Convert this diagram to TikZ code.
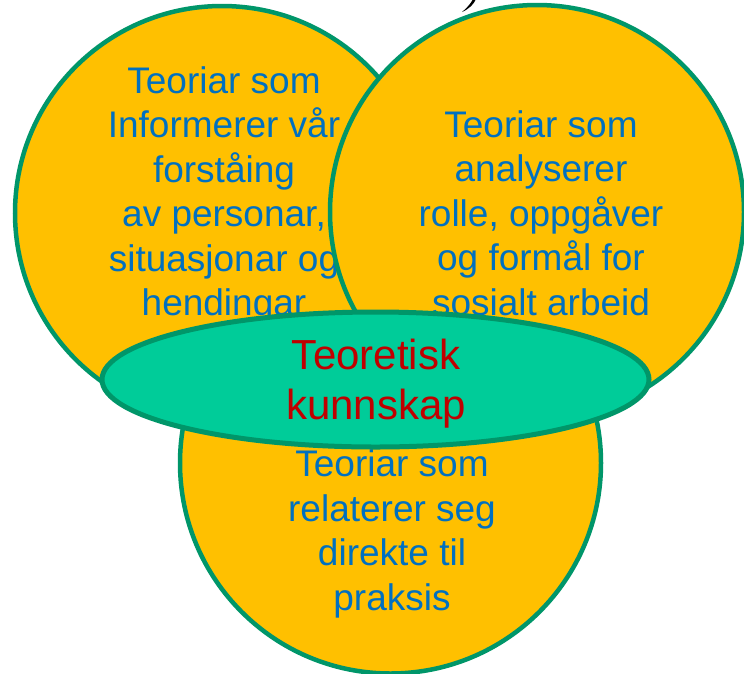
\documentclass[tikz,border=0pt]{standalone}
\usepackage{fontspec}
\setmainfont{Liberation Sans}
\usetikzlibrary{shapes.geometric}
\definecolor{circfill}{RGB}{255,192,0}
\definecolor{edgegreen}{RGB}{0,150,105}
\definecolor{ellfill}{RGB}{0,204,153}
\definecolor{txtblue}{RGB}{0,112,192}
\definecolor{txtred}{RGB}{192,0,0}
\tikzset{
  circ/.style={circle, draw=edgegreen, fill=circfill, line width=4.5pt, minimum size=414pt, inner sep=0pt},
  midell/.style={ellipse, draw=edgegreen, fill=ellfill, line width=5pt, minimum width=547pt, minimum height=135pt, inner sep=0pt},
  bluetxt/.style={text=txtblue, align=center, inner sep=0pt, font=\fontsize{37}{44.5}\selectfont},
  redtxt/.style={text=txtred, align=center, inner sep=0pt, font=\fontsize{42}{50}\selectfont}
}
\begin{document}
\begin{tikzpicture}[x=1pt,y=-1pt]
\clip (0,0) rectangle (744,673);
\fill[white] (0,0) rectangle (744,673);
% black stroke at the top
\fill[black] (462,12) .. controls (468,7) and (471,3) .. (473,-1) -- (476,-1) .. controls (474,4) and (469,9) .. (462,12) -- cycle;
% bottom circle
\node[circ, minimum size=421pt] (B) at (390.5,463) {};
% left circle
\node[circ] (L) at (222,213) {};
\node[bluetxt] (Ltxt) at (224,195) {Teoriar som\\Informerer vår\\forståing\\av personar,\\situasjonar og\\hendingar};
% right circle
\node[circ] (R) at (537,212) {};
\node[bluetxt] (Rtxt) at (541,213) {Teoriar som\\analyserer\\rolle, oppgåver\\og formål for\\sosialt arbeid};
% bottom text
\node[bluetxt] (Btxt) at (392,534) {Teoriar som\\relaterer seg\\direkte til\\praksis};
% central ellipse
\node[midell] (E) at (375.5,379.5) {};
\node[redtxt] (Etxt) at (376,384) {Teoretisk\\kunnskap};
\end{tikzpicture}
\end{document}
